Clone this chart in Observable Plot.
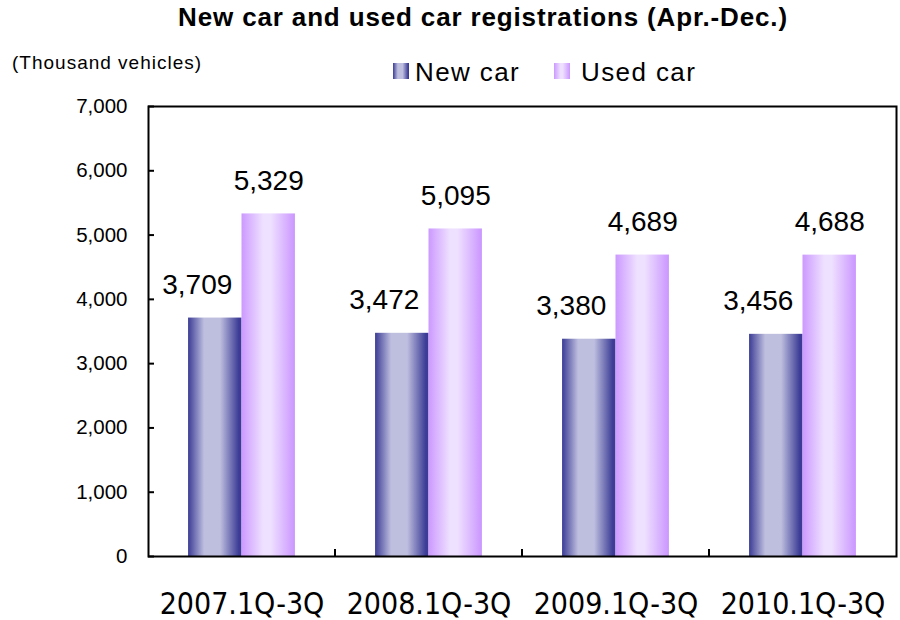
<!DOCTYPE html>
<html><head><meta charset="utf-8">
<script src="https://cdn.jsdelivr.net/npm/d3@7"></script>
<script src="https://cdn.jsdelivr.net/npm/@observablehq/plot@0.6"></script>
<style>
body{margin:0;background:#fff;font-family:"Liberation Sans",Arial,sans-serif;color:#000;}
#wrap{position:relative;width:900px;height:620px;overflow:hidden;}
#chart{position:absolute;left:0;top:0;}
.t{position:absolute;white-space:nowrap;}
#title{top:4px;left:0;width:966px;text-align:center;font-weight:bold;font-size:26px;line-height:26px;letter-spacing:0.85px;}
#unit{top:53px;left:12px;font-size:19px;line-height:19px;letter-spacing:1px;}
.sw{position:absolute;width:16px;height:16px;}
#swNew{left:393px;top:63px;background:linear-gradient(to right,#3c3c96 0%,#bebedf 30%,#bebedf 60%,#3c3c96 95%);}
#swUsed{left:554px;top:63px;background:linear-gradient(to right,#cc99ff 0%,#eee0ff 40%,#eee0ff 55%,#cc99ff 98%);}
.lg{top:59px;font-size:26px;line-height:26px;letter-spacing:1.4px;}
</style></head><body>
<div id="wrap">
  <div id="chart"></div>
  <div class="t" id="title">New car and used car registrations (Apr.-Dec.)</div>
  <div class="t" id="unit">(Thousand vehicles)</div>
  <div class="sw" id="swNew"></div><div class="t lg" id="lgNew" style="left:415px">New car</div>
  <div class="sw" id="swUsed"></div><div class="t lg" id="lgUsed" style="left:581px">Used car</div>
</div>
<script>
const categories = ["2007.1Q-3Q", "2008.1Q-3Q", "2009.1Q-3Q", "2010.1Q-3Q"];
const seriesNames = ["New car", "Used car"];
const newCar = [3709, 3472, 3380, 3456];
const usedCar = [5329, 5095, 4689, 4688];
const yTicks = [0, 1000, 2000, 3000, 4000, 5000, 6000, 7000];

const data = categories.flatMap((c, i) => [
  {category: c, series: seriesNames[0], value: newCar[i]},
  {category: c, series: seriesNames[1], value: usedCar[i]}
]);
const fmt = d3.format(",");

const plot = Plot.plot({
  width: 900, height: 620,
  marginTop: 106, marginBottom: 64, marginLeft: 147, marginRight: 3,
  style: {background: "transparent", fontFamily: '"Liberation Sans", Arial, sans-serif', color: "#000", overflow: "visible"},
  fx: {domain: categories, padding: 0, label: null},
  x: {domain: seriesNames, paddingInner: 0, paddingOuter: 0.75, align: 0.5, axis: null, round: false},
  y: {domain: [0, 7000]},
  color: {domain: seriesNames, range: ["url(#gradNew)", "url(#gradUsed)"]},
  marks: [
    Plot.barY(data, {fx: "category", x: "series", y: "value", fill: "series"}),
    Plot.text(data.filter(d => d.series === seriesNames[0]), {fx: "category", x: "series", y: "value", text: d => fmt(d.value), dy: -33, dx: -18, fontSize: 28, lineAnchor: "middle"}),
    Plot.text(data.filter(d => d.series === seriesNames[1]), {fx: "category", x: "series", y: "value", text: d => fmt(d.value), dy: -33, dx: 0, fontSize: 28, lineAnchor: "middle"}),
    Plot.axisY({ticks: yTicks, tickFormat: d => fmt(d), tickSize: 0, tickPadding: 21, fontSize: 20.5, label: null}),
    Plot.axisY({ticks: yTicks, tickFormat: () => "", tickSize: -6, strokeWidth: 2, label: null}),
    Plot.axisFx({anchor: "bottom", tickSize: 0, tickPadding: 36, fontSize: 30, label: null, fontFamily: '"Liberation Sans Narrow", "DejaVu Sans Condensed", sans-serif', style: "letter-spacing:3px"}),
    Plot.frame({facet: "super", strokeWidth: 2})
  ]
});

const svg = d3.select(plot);

// gradients for the bar fills
const defs = svg.insert("defs", ":first-child");
function grad(id, stops) {
  const g = defs.append("linearGradient").attr("id", id).attr("x1", 0).attr("x2", 1).attr("y1", 0).attr("y2", 0);
  stops.forEach(([o, c]) => g.append("stop").attr("offset", o).attr("stop-color", c));
}
grad("gradNew", [[0, "#3c3c96"], [0.3, "#bebedf"], [0.6, "#bebedf"], [0.95, "#3c3c96"], [1, "#3c3c96"]]);
grad("gradUsed", [[0, "#cc99ff"], [0.4, "#eee0ff"], [0.55, "#eee0ff"], [0.98, "#cc99ff"], [1, "#cc99ff"]]);

// short separator ticks between groups, positioned from the fx and y scales
const fxS = plot.scale("fx"), yS = plot.scale("y");
const y0 = yS.apply(0);
categories.slice(1).forEach(c => {
  const xp = fxS.apply(c);
  svg.append("line").attr("x1", xp).attr("x2", xp).attr("y1", y0).attr("y2", y0 - 7)
    .attr("stroke", "#000").attr("stroke-width", 2);
});

document.getElementById("chart").appendChild(plot);
</script>
</body></html>
